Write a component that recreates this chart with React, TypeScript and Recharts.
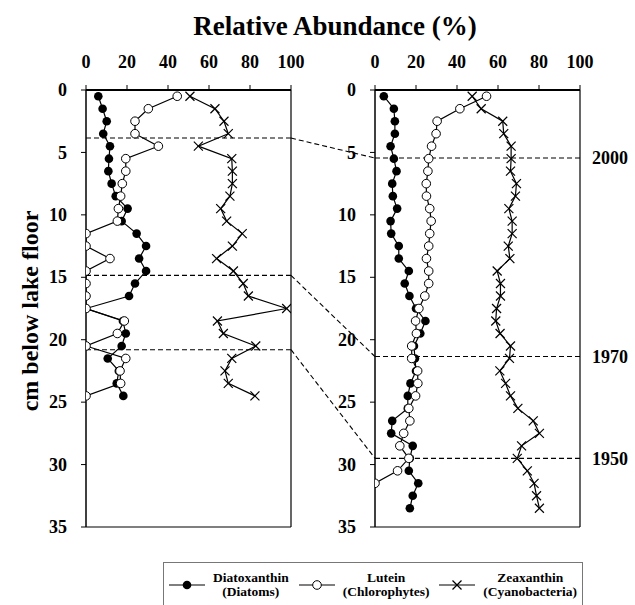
import React from 'react';
import { LineChart, Line, XAxis, YAxis, ReferenceLine } from 'recharts';

// sediment core, left panel (older core) and right panel
const leftDepth = [0.5, 1.5, 2.5, 3.5, 4.5, 5.5, 6.5, 7.5, 8.5, 9.5, 10.5, 11.5, 12.5, 13.5, 14.5, 15.5, 16.5, 17.5, 18.5, 19.5, 20.5, 21.5, 22.5, 23.5, 24.5];
const leftDiatoxanthin = [6.0, 8.1, 10.1, 8.4, 11.7, 11.2, 10.9, 12.5, 14.5, 20.3, 17.4, 24.7, 29.3, 25.9, 29.3, 23.9, 21.0, 0, 18.0, 19.4, 17.4, 10.6, 16.0, 15.0, 18.2];
const leftLutein = [44.5, 30.4, 23.9, 23.9, 35.3, 19.4, 19.4, 17.7, 16.9, 15.8, 15.3, 0, 0, 11.7, 0, 0, 0, 0, 18.7, 15.3, 0, 19.4, 16.6, 16.9, 0];
const leftZeaxanthin = [50.7, 62.9, 67.3, 69.4, 54.8, 71.1, 71.4, 71.4, 70.2, 65.7, 68.6, 76.2, 71.4, 63.7, 71.9, 76.7, 79.2, 97.9, 64.1, 67.0, 82.8, 71.1, 67.8, 69.4, 82.4];

const rightDepth = [0.5, 1.5, 2.5, 3.5, 4.5, 5.5, 6.5, 7.5, 8.5, 9.5, 10.5, 11.5, 12.5, 13.5, 14.5, 15.5, 16.5, 17.5, 18.5, 19.5, 20.5, 21.5, 22.5, 23.5, 24.5, 25.5, 26.5, 27.5, 28.5, 29.5, 30.5, 31.5, 32.5, 33.5];
const rightDiatoxanthin = [4.3, 9.2, 9.7, 9.7, 7.6, 9.2, 10.5, 8.4, 8.7, 10.8, 7.6, 7.9, 11.6, 11.6, 16.5, 14.5, 16.8, 20.0, 24.6, 22.1, 19.0, 19.5, 20.0, 17.3, 16.0, 16.0, 8.4, 7.9, 18.4, 17.0, 16.5, 21.1, 18.4, 17.0];
const rightLutein = [54.4, 41.4, 30.3, 29.8, 27.6, 26.2, 25.8, 25.0, 25.1, 26.7, 27.4, 26.7, 26.2, 25.1, 26.2, 26.2, 24.3, 21.4, 19.8, 20.2, 17.9, 17.9, 20.8, 20.9, 19.8, 16.5, 17.0, 14.0, 12.1, 16.5, 11.0, 0, null, null];
const rightZeaxanthin = [47.4, 51.8, 62.3, 62.8, 66.4, 66.4, 66.1, 69.0, 68.5, 65.3, 66.9, 66.9, 65.0, 65.8, 59.6, 61.2, 61.2, 59.3, 58.9, 61.0, 66.1, 65.6, 60.9, 63.7, 66.1, 69.7, 77.2, 80.2, 71.5, 69.4, 74.3, 77.6, 78.8, 80.2];

// dated horizons (depth in each core) and their years
const leftHorizons = [3.85, 14.85, 20.8];
const rightHorizons = [5.45, 21.35, 29.5];
const horizonYears = ['2000', '1970', '1950'];

const xTicks = [0, 20, 40, 60, 80, 100];
const yTicks = [0, 5, 10, 15, 20, 25, 30, 35];

const FONT = '"Liberation Serif", "Times New Roman", Tinos, serif';

// panel geometry
const CH = 540;
const PLOT_TOP = 90;
const PLOT_BOTTOM = 527;
const L_LEFT = 86;
const L_RIGHT = 291;
const R_CHART_X = 300;
const R_LEFT = 375;
const R_RIGHT = 580;
const PLOT_W = L_RIGHT - L_LEFT;
// x (in left-panel units) where the right panel's axis sits
const bridgeX = 100 + ((R_LEFT - L_RIGHT) / PLOT_W) * 100;

const buildRows = (depth: number[], dia: (number | null)[], lut: (number | null)[], zea: (number | null)[]) =>
  depth.map((d, i) => ({ depth: d, dia: dia[i], lut: lut[i], zea: zea[i] }));

const leftData = buildRows(leftDepth, leftDiatoxanthin, leftLutein, leftZeaxanthin);
const rightData = buildRows(rightDepth, rightDiatoxanthin, rightLutein, rightZeaxanthin);

const XTick = (p: any) => (
  <text x={p.x} y={p.y} textAnchor="middle" fontFamily={FONT} fontSize={18} fontWeight={700} fill="#000">
    {p.payload.value}
  </text>
);
const YTick = (p: any) => (
  <text x={p.x} y={p.y} dy="0.34em" textAnchor="end" fontFamily={FONT} fontSize={18} fontWeight={700} fill="#000">
    {p.payload.value}
  </text>
);

const FilledDot = (p: any) => {
  if (p.cx == null || p.cy == null || p.value == null) return <g key={`f-${p.index}`} />;
  return <circle key={`f-${p.index}`} cx={p.cx} cy={p.cy} r={4.3} fill="#000" />;
};
const OpenDot = (p: any) => {
  if (p.cx == null || p.cy == null || p.value == null) return <g key={`o-${p.index}`} />;
  return <circle key={`o-${p.index}`} cx={p.cx} cy={p.cy} r={4.3} fill="#fff" stroke="#000" strokeWidth={1} />;
};
const CrossDot = (p: any) => {
  if (p.cx == null || p.cy == null || p.value == null) return <g key={`x-${p.index}`} />;
  const s = 4.5;
  return (
    <g key={`x-${p.index}`} stroke="#000" strokeWidth={1.2}>
      <line x1={p.cx - s} y1={p.cy - s} x2={p.cx + s} y2={p.cy + s} />
      <line x1={p.cx - s} y1={p.cy + s} x2={p.cx + s} y2={p.cy - s} />
    </g>
  );
};

const seriesLines = () => [
  <Line key="dia" dataKey="dia" stroke="#000" strokeWidth={1.2} dot={FilledDot} activeDot={false} isAnimationActive={false} />,
  <Line key="lut" dataKey="lut" stroke="#000" strokeWidth={1.2} dot={OpenDot} activeDot={false} isAnimationActive={false} />,
  <Line key="zea" dataKey="zea" stroke="#000" strokeWidth={1.2} dot={CrossDot} activeDot={false} isAnimationActive={false} />,
];

const axes = (yWidth: number) => [
  <XAxis
    key="x"
    type="number"
    orientation="top"
    domain={[0, 100]}
    ticks={xTicks}
    height={30}
    tick={XTick}
    tickSize={5}
    tickMargin={17}
    axisLine={{ stroke: '#000', strokeWidth: 2 }}
    tickLine={{ stroke: '#000' }}
    allowDataOverflow
  />,
  <YAxis
    key="y"
    type="number"
    dataKey="depth"
    domain={[0, 35]}
    ticks={yTicks}
    width={yWidth}
    tick={YTick}
    tickSize={5}
    tickMargin={14}
    axisLine={{ stroke: '#000', strokeWidth: 1.5 }}
    tickLine={{ stroke: '#000' }}
    allowDataOverflow
  />,
  <ReferenceLine key="rb" x={100} stroke="#000" strokeWidth={1.2} />,
  <ReferenceLine key="bb" y={35} stroke="#000" strokeWidth={1.2} />,
];

const LegendIcon = ({ kind }: { kind: string }) => (
  <svg width={36} height={12} style={{ display: 'block' }}>
    <line x1={0} y1={6} x2={36} y2={6} stroke="#000" strokeWidth={1.1} />
    {kind === 'filled' && <circle cx={18} cy={6} r={4.3} fill="#000" />}
    {kind === 'open' && <circle cx={18} cy={6} r={4.3} fill="#fff" stroke="#000" />}
    {kind === 'cross' && (
      <g stroke="#000" strokeWidth={1.2}>
        <line x1={13.5} y1={1.5} x2={22.5} y2={10.5} />
        <line x1={13.5} y1={10.5} x2={22.5} y2={1.5} />
      </g>
    )}
  </svg>
);

const legendItems = [
  { kind: 'filled', name: 'Diatoxanthin', group: '(Diatoms)' },
  { kind: 'open', name: 'Lutein', group: '(Chlorophytes)' },
  { kind: 'cross', name: 'Zeaxanthin', group: '(Cyanobacteria)' },
];

export default function App() {
  return (
    <div style={{ position: 'absolute', left: 0, top: 0, width: 635, height: 605, background: '#fff', overflow: 'hidden', fontFamily: FONT }}>
      <div style={{ position: 'absolute', left: 85, width: 500, top: 9, textAlign: 'center', fontSize: 27, fontWeight: 700, lineHeight: '34px' }}>
        Relative Abundance (%)
      </div>
      <div
        style={{
          position: 'absolute',
          left: 30 - 150,
          top: 311 - 15,
          width: 300,
          height: 30,
          lineHeight: '30px',
          textAlign: 'center',
          fontSize: 24,
          fontWeight: 700,
          transform: 'rotate(-90deg)',
        }}
      >
        cm below lake floor
      </div>

      <div style={{ position: 'absolute', left: 0, top: 0 }}>
        <LineChart
          layout="vertical"
          width={R_LEFT + 5}
          height={CH}
          data={leftData}
          margin={{ top: PLOT_TOP - 30, left: L_LEFT - 40, right: R_LEFT + 5 - L_RIGHT, bottom: CH - PLOT_BOTTOM }}
        >
          {axes(40)}
          {leftHorizons.map((h) => (
            <ReferenceLine key={`lh-${h}`} y={h} stroke="#000" strokeWidth={1.1} strokeDasharray="5 3" />
          ))}
          {leftHorizons.map((h, i) => (
            <ReferenceLine
              key={`br-${h}`}
              segment={[{ x: 100, y: h }, { x: bridgeX, y: rightHorizons[i] }]}
              stroke="#000"
              strokeWidth={1.1}
              strokeDasharray="5 3"
              ifOverflow="visible"
            />
          ))}
          {seriesLines()}
        </LineChart>
      </div>

      <div style={{ position: 'absolute', left: R_CHART_X, top: 0 }}>
        <LineChart
          layout="vertical"
          width={635 - R_CHART_X}
          height={CH}
          data={rightData}
          margin={{ top: PLOT_TOP - 30, left: R_LEFT - R_CHART_X - 40, right: 635 - R_RIGHT, bottom: CH - PLOT_BOTTOM }}
        >
          {axes(40)}
          {rightHorizons.map((h, i) => (
            <ReferenceLine
              key={`rh-${h}`}
              y={h}
              stroke="#000"
              strokeWidth={1.1}
              strokeDasharray="5 3"
              label={{ value: horizonYears[i], position: 'right', offset: 12, fill: '#000', fontSize: 18, fontWeight: 700, fontFamily: FONT }}
            />
          ))}
          {seriesLines()}
        </LineChart>
      </div>

      <div
        style={{
          position: 'absolute',
          left: 163,
          top: 562,
          width: 420,
          height: 44,
          borderTop: '1.5px solid #777',
          borderLeft: '1.5px solid #777',
          borderRight: '1.5px solid #777',
          display: 'flex',
          justifyContent: 'space-around',
          alignItems: 'center',
          boxSizing: 'border-box',
        }}
      >
        {legendItems.map((it) => (
          <div key={it.name} style={{ display: 'flex', alignItems: 'center', gap: 8 }}>
            <LegendIcon kind={it.kind} />
            <div style={{ textAlign: 'center', fontSize: 13.5, fontWeight: 700, lineHeight: '14px' }}>
              <div>{it.name}</div>
              <div>{it.group}</div>
            </div>
          </div>
        ))}
      </div>
    </div>
  );
}
